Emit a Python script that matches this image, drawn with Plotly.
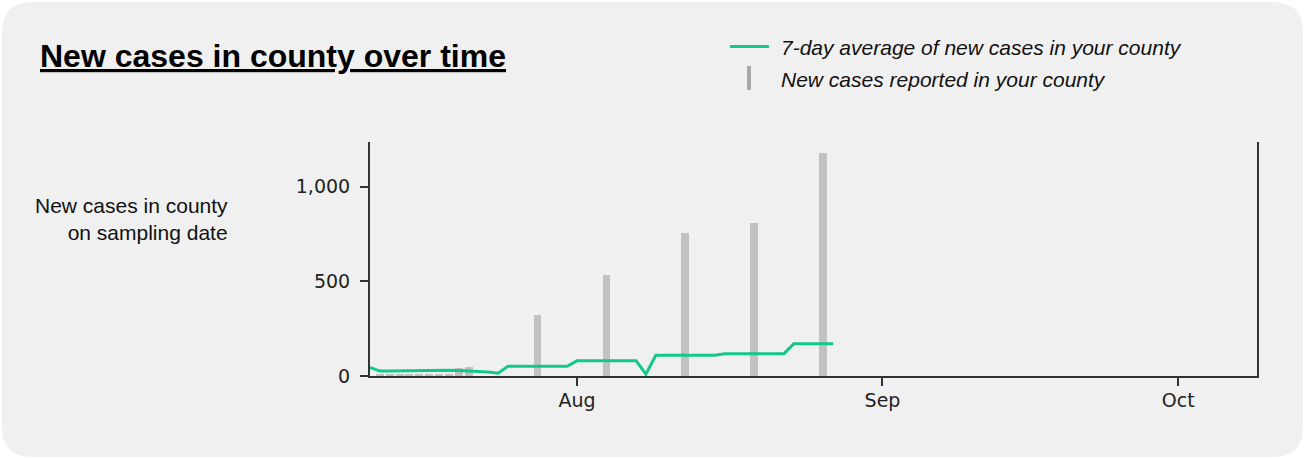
import plotly.graph_objects as go
import pandas as pd

# ---------------- data ----------------
avg_start = "2020-07-11"
avg_values = [
    45, 26, 26, 27, 28, 30, 32, 33, 31, 29, 27, 24, 21, 15,   # Jul 11 - Jul 24
    51, 51, 51, 51, 51, 51, 51,                               # Jul 25 - Jul 31
    80, 80, 80, 80, 80, 80, 80,                               # Aug 1 - Aug 7
    10,                                                       # Aug 8
    110, 110, 110, 110, 110, 110, 110,                        # Aug 9 - Aug 15
    118, 118, 118, 118, 118, 118, 118,                        # Aug 16 - Aug 22
    170, 170, 170, 170, 170,                                  # Aug 23 - Aug 27
]
avg_dates = pd.date_range(avg_start, periods=len(avg_values), freq="D")

bar_dates = ["2020-07-12", "2020-07-13", "2020-07-14", "2020-07-15", "2020-07-16",
             "2020-07-17", "2020-07-18", "2020-07-19", "2020-07-20", "2020-07-21",
             "2020-07-28", "2020-08-04", "2020-08-12", "2020-08-19", "2020-08-26"]
bar_values = [7, 7, 7, 7, 7, 7, 7, 7, 42, 48, 322, 535, 758, 811, 1178]

x_range = ["2020-07-11", "2020-10-09"]
y_range = [0, 1237]
x_tickvals = ["2020-08-01", "2020-09-01", "2020-10-01"]
x_ticktext = ["Aug", "Sep", "Oct"]
y_tickvals = [0, 500, 1000]
y_ticktext = ["0", "500", "1,000"]

title_text = "New cases in county over time"
ylabel_text = "New cases in county<br>on sampling date"
legend_line_text = "7-day average of new cases in your county"
legend_bar_text = "New cases reported in your county"

LINE_COLOR = "#12c98a"
BAR_COLOR = "#c1c1c1"
CARD_COLOR = "#f0f0f0"

W, H = 1305, 459
ML, MR, MT, MB = 370, 48, 142, 83
PW, PH = W - ML - MR, H - MT - MB


def px_x(px):
    return (px - ML) / PW


def px_y(py):
    return (H - MB - py) / PH


fig = go.Figure()

fig.add_trace(go.Bar(
    x=bar_dates, y=bar_values,
    width=0.8 * 86400000,
    marker=dict(color=BAR_COLOR, line=dict(width=0)),
    showlegend=False, hoverinfo="skip",
))
fig.add_trace(go.Scatter(
    x=avg_dates, y=avg_values, mode="lines",
    line=dict(color=LINE_COLOR, width=3),
    showlegend=False, hoverinfo="skip", cliponaxis=True,
))

# rounded card background
x0, x1, y0, y1, r = 2, 1303, 2, 457, 30
path = (
    f"M {px_x(x0 + r)} {px_y(y0)} "
    f"L {px_x(x1 - r)} {px_y(y0)} "
    f"Q {px_x(x1)} {px_y(y0)} {px_x(x1)} {px_y(y0 + r)} "
    f"L {px_x(x1)} {px_y(y1 - r)} "
    f"Q {px_x(x1)} {px_y(y1)} {px_x(x1 - r)} {px_y(y1)} "
    f"L {px_x(x0 + r)} {px_y(y1)} "
    f"Q {px_x(x0)} {px_y(y1)} {px_x(x0)} {px_y(y1 - r)} "
    f"L {px_x(x0)} {px_y(y0 + r)} "
    f"Q {px_x(x0)} {px_y(y0)} {px_x(x0 + r)} {px_y(y0)} Z"
)
shapes = [
    dict(type="path", xref="paper", yref="paper", path=path,
         fillcolor=CARD_COLOR, line=dict(width=0), layer="below"),
    # legend symbols
    dict(type="line", xref="paper", yref="paper",
         x0=px_x(730), x1=px_x(769), y0=px_y(46.5), y1=px_y(46.5),
         line=dict(color=LINE_COLOR, width=3)),
    dict(type="line", xref="paper", yref="paper",
         x0=px_x(749), x1=px_x(749), y0=px_y(66), y1=px_y(90),
         line=dict(color="#a8a8a8", width=4)),
]

annotations = [
    dict(text=f"<b><u>{title_text}</u></b>", xref="paper", yref="paper",
         x=px_x(38), y=px_y(56), xanchor="left", yanchor="middle", showarrow=False,
         font=dict(family="Liberation Sans, Arial", size=32, color="#000000")),
    dict(text=f"<i>{legend_line_text}</i>", xref="paper", yref="paper",
         x=px_x(779), y=px_y(47), xanchor="left", yanchor="middle", showarrow=False,
         font=dict(family="Liberation Sans, Arial", size=21, color="#111111")),
    dict(text=f"<i>{legend_bar_text}</i>", xref="paper", yref="paper",
         x=px_x(779), y=px_y(79), xanchor="left", yanchor="middle", showarrow=False,
         font=dict(family="Liberation Sans, Arial", size=21, color="#111111")),
    dict(text=ylabel_text, xref="paper", yref="paper",
         x=px_x(230), y=px_y(219), xanchor="right", yanchor="middle", align="right",
         showarrow=False,
         font=dict(family="Liberation Sans, Arial", size=21, color="#111111")),
]

fig.update_layout(
    width=W, height=H,
    margin=dict(l=ML, r=MR, t=MT, b=MB, pad=0),
    paper_bgcolor="#ffffff",
    plot_bgcolor="rgba(0,0,0,0)",
    shapes=shapes,
    annotations=annotations,
    bargap=0,
    xaxis=dict(
        type="date", range=x_range,
        tickvals=x_tickvals, ticktext=x_ticktext,
        showgrid=False, zeroline=False,
        showline=True, linecolor="#333333", linewidth=2,
        ticks="outside", ticklen=8, tickwidth=2, tickcolor="#333333",
        tickfont=dict(family="DejaVu Sans", size=19, color="#222222"),
        ticklabelstandoff=-2,
    ),
    yaxis=dict(
        range=y_range,
        tickvals=y_tickvals, ticktext=y_ticktext,
        showgrid=False, zeroline=False,
        showline=True, mirror=True, linecolor="#333333", linewidth=2,
        ticks="outside", ticklen=8, tickwidth=2, tickcolor="#333333",
        tickfont=dict(family="DejaVu Sans", size=19, color="#222222"),
        ticklabelstandoff=6,
    ),
)

fig.write_html("out.html", config={"displayModeBar": False},
               post_script="document.body.style.margin='0';")
